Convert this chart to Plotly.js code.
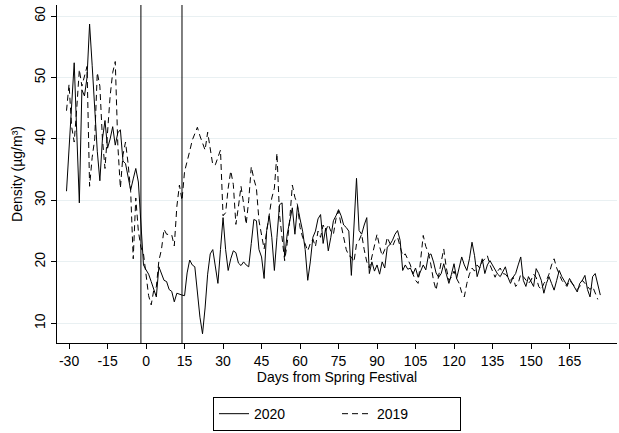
<!DOCTYPE html>
<html>
<head>
<meta charset="utf-8">
<script src="https://cdn.plot.ly/plotly-3.0.1.min.js"></script>
<style>html,body{margin:0;padding:0;background:#fff;}#chart{width:619px;height:433px;}</style>
</head>
<body>
<div id="chart"></div>
<script>
const dayStart = -31;
const pm2020 = [
31.5,38,45,52.4,41,29.6,48,47,50,58.7,
52,45,38,33.2,40,43,38.5,40,42,39,
41,41.5,36.4,36,34,31.7,33.5,35.2,33,27,
19.5,18.7,18,16.8,15.5,14.3,19.2,18,17,16.8,
15.5,15.2,13.5,14.9,14.7,14.6,14.5,18.2,20.3,19.5,
19.2,15,11,8.3,12.5,18,21.3,22,19,16.5,
22,27.2,22,18.6,20.5,21.8,21.5,19.8,19.4,20,
19.5,19.2,23,26.9,26.7,22,20.8,17.3,25.1,27.5,
24,18.6,24,29.3,29.6,20.8,24.5,27,28.8,24.5,
29.1,27,25,22,17,20,24,25,27,27.7,
23,25.5,21.8,24,26.7,27.5,28.5,27.5,26,25.6,
25,17.8,25,33.6,25.1,24.5,26,27.2,18.1,20,
18.5,19.5,18,20,19,22.4,22.8,23.5,24.5,25.1,
23.5,18.6,19.5,18.8,19,18,19,17.5,18.5,19.5,
18.7,21,21.3,20,18.2,17.5,18.1,19.7,18,16.5,
18,19.7,17.3,19,20.8,19.5,18.6,20.5,23.2,21,
17.6,19,20.5,18.1,19.5,20.2,19.5,18.9,18,17.6,
18.5,19.2,17.5,16.5,17.5,18.1,19.5,20.8,17,16,
17.6,16.8,16,18.9,18.1,17,14.9,16.5,17.6,16.5,
15.4,17,18.6,17.6,17,16.2,17.3,16.5,15.8,15.1,
16.5,17,17.8,15.5,14.3,17.6,18.1,16.5,14.6
];
const pm2019 = [
44.6,48.9,42,39.5,45,51.3,48.6,50,51.8,32.3,
37,40,50.8,48.6,40,35.2,41.1,47,50.8,52.6,
39,32,37.4,39.5,36,31.5,20.5,30.4,25,22.4,
21.3,17.6,14.5,13,15.4,15.9,20.2,22,25.3,24.5,
24.5,24.4,22.6,29,32.5,30,34.7,36.6,38,39.8,
41,41.9,40.5,39.5,38.2,41.1,38.5,35.8,35.8,37,
38.2,27.5,28,32,34.8,32.6,26.1,29,32.3,29.5,
26.1,30,35.5,33.5,32,26.7,24,22.1,25,27.5,
30.4,32,37.7,27.7,24,20.2,23,27,32.5,30.5,
29.3,25.6,24,22.9,21.8,23,23.7,22.5,25,24,
26,25,26.1,25,24.5,27,28.3,26,24,22,
21,20.8,20,22.9,23.5,24.5,22,20,19,21,
23,24.5,22.5,21,22,24,23,22.5,23.5,24,
22.5,21,21.3,20.5,19.5,18,17,16.5,20,24.3,
22.5,21.5,19.5,17,15.4,18,20,22.1,19,17,
17.5,18.5,17.3,16.5,15,14.3,16.5,18,19,18.5,
19.5,19,20,20.5,21,19.5,18.5,17.5,18.5,19,
18.1,18,17.5,17,17.5,16,16.5,18,17.6,17,
16.5,17,18,17.5,16,15.5,16.5,17,18,19.5,
20.5,19,18,17,16.5,16,17,16.5,16,15.5,
16,17,16.5,16,15.5,16,15,13.9
];
const eventDays = [-2, 14];
const xTicks = [-30,-15,0,15,30,45,60,75,90,105,120,135,150,165];
const yTicks = [10,20,30,40,50,60];

const days2020 = pm2020.map((_, i) => dayStart + i);
const days2019 = pm2019.map((_, i) => dayStart + i);

const font = {family: 'Liberation Sans, Arial, sans-serif', color: '#000', size: 14};

const traces = [
  {x: days2020, y: pm2020, type: 'scatter', mode: 'lines', name: '2020',
   line: {color: '#000', width: 1}},
  {x: days2019, y: pm2019, type: 'scatter', mode: 'lines', name: '2019',
   line: {color: '#000', width: 1, dash: '6px,4px'}}
];

const layout = {
  width: 619, height: 433,
  margin: {l: 57, r: 2, t: 5, b: 86},
  paper_bgcolor: '#fff', plot_bgcolor: '#fff',
  font: font,
  showlegend: true,
  legend: {orientation: 'h', x: 0.5, xanchor: 'center', y: -0.16, yanchor: 'top',
           bordercolor: '#000', borderwidth: 1, font: {size: 14, family: font.family},
           entrywidth: 78, entrywidthmode: 'pixels', tracegroupgap: 0},
  xaxis: {range: [-34.7, 183.5], tickvals: xTicks, ticktext: xTicks.map(String),
          showgrid: false, zeroline: false, showline: true, linecolor: '#000', linewidth: 1,
          ticks: 'outside', ticklen: 5, tickcolor: '#000', tickfont: {size: 14},
          title: {text: 'Days from Spring Festival', font: {size: 14}, standoff: 3}},
  yaxis: {range: [6.8, 61.8], tickvals: yTicks, ticktext: yTicks.map(String),
          showgrid: true, gridcolor: '#e9f0f2', gridwidth: 1, zeroline: false,
          showline: true, linecolor: '#000', linewidth: 1,
          ticks: 'outside', ticklen: 5, tickcolor: '#000', tickangle: -90, tickfont: {size: 14},
          title: {text: 'Density (µg/m³)', font: {size: 14}, standoff: 6}},
  shapes: eventDays.map(d => ({type: 'line', xref: 'x', yref: 'paper', x0: d, x1: d, y0: 0, y1: 1,
                               line: {color: '#000', width: 1}}))
};

Plotly.newPlot('chart', traces, layout, {displayModeBar: false, staticPlot: true});
</script>
</body>
</html>
